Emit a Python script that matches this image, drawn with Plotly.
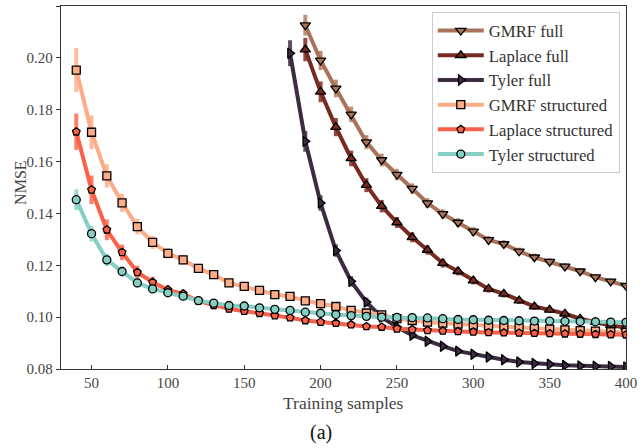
import plotly.graph_objects as go

# ---------------- data ----------------
x_struct = [40, 50, 60, 70, 80, 90, 100, 110, 120, 130, 140, 150, 160, 170, 180, 190, 200,
            210, 220, 230, 240, 250, 260, 270, 280, 290, 300, 310, 320, 330, 340, 350, 360,
            370, 380, 390, 400]
x_full190 = [190, 200, 210, 220, 230, 240, 250, 260, 270, 280, 290, 300, 310, 320, 330,
             340, 350, 360, 370, 380, 390, 400]
x_full180 = [180, 190, 200, 210, 220, 230, 240, 250, 260, 270, 280, 290, 300, 310, 320, 330,
             340, 350, 360, 370, 380, 390, 400]

gmrf_full = [0.2126, 0.1990, 0.1882, 0.1782, 0.1675, 0.1606, 0.1550, 0.1496, 0.1440, 0.1398,
             0.1365, 0.1331, 0.1298, 0.1282, 0.1254, 0.1231, 0.1214, 0.1196, 0.1177, 0.1154,
             0.1138, 0.1121]
gmrf_full_err = [0.0040, 0.0037, 0.0034, 0.0030, 0.0027, 0.0025, 0.0022, 0.0020, 0.0019, 0.0018,
                 0.0017, 0.0016, 0.0015, 0.0015, 0.0014, 0.0014, 0.0013, 0.0013, 0.0012, 0.0012,
                 0.0012, 0.0011]
laplace_full = [0.2032, 0.1869, 0.1733, 0.1612, 0.1509, 0.1428, 0.1365, 0.1308, 0.1259, 0.1208,
                0.1177, 0.1141, 0.1109, 0.1090, 0.1064, 0.1041, 0.1028, 0.1013, 0.0994, 0.0981,
                0.0968, 0.0960]
laplace_full_err = [0.0045, 0.0040, 0.0035, 0.0030, 0.0027, 0.0024, 0.0021, 0.0019, 0.0018, 0.0017,
                    0.0016, 0.0015, 0.0014, 0.0014, 0.0013, 0.0013, 0.0012, 0.0012, 0.0011, 0.0011,
                    0.0011, 0.0010]
tyler_full = [0.2018, 0.1678, 0.1440, 0.1257, 0.1138, 0.1058, 0.1000, 0.0962, 0.0930, 0.0907,
              0.0888, 0.0869, 0.0857, 0.0846, 0.0836, 0.0827, 0.0821, 0.0818, 0.0814, 0.0812,
              0.0811, 0.0810, 0.0808]
tyler_full_err = [0.0050, 0.0040, 0.0030, 0.0024, 0.0020, 0.0017, 0.0015, 0.0013, 0.0012, 0.0011,
                  0.0010, 0.0010, 0.0009, 0.0009, 0.0008, 0.0008, 0.0008, 0.0007, 0.0007, 0.0007,
                  0.0007, 0.0006, 0.0006]

gmrf_struct = [0.1953, 0.1713, 0.1545, 0.1441, 0.1349, 0.1288, 0.1246, 0.1221, 0.1188, 0.1164,
               0.1132, 0.1119, 0.1103, 0.1087, 0.1080, 0.1063, 0.1052, 0.1041, 0.1026, 0.1016,
               0.1009, 0.0994, 0.0987, 0.0981, 0.0977, 0.0973, 0.0969, 0.0966, 0.0963, 0.0960,
               0.0957, 0.0954, 0.0951, 0.0948, 0.0946, 0.0943, 0.0941]
gmrf_struct_err = [0.0085, 0.0065, 0.0045, 0.0035, 0.0030, 0.0025, 0.0021, 0.0019, 0.0018, 0.0017,
                   0.0016, 0.0015, 0.0015, 0.0014, 0.0014, 0.0013, 0.0013, 0.0013, 0.0012, 0.0012,
                   0.0012, 0.0012, 0.0011, 0.0011, 0.0011, 0.0011, 0.0011, 0.0010, 0.0010, 0.0010,
                   0.0010, 0.0010, 0.0010, 0.0010, 0.0010, 0.0010, 0.0010]
laplace_struct = [0.1715, 0.1491, 0.1337, 0.1250, 0.1173, 0.1135, 0.1105, 0.1090, 0.1062, 0.1045,
                  0.1032, 0.1023, 0.1015, 0.1006, 0.0998, 0.0987, 0.0981, 0.0977, 0.0971, 0.0964,
                  0.0962, 0.0955, 0.0952, 0.0949, 0.0947, 0.0945, 0.0943, 0.0941, 0.0940, 0.0939,
                  0.0938, 0.0937, 0.0936, 0.0935, 0.0934, 0.0933, 0.0932]
laplace_struct_err = [0.0070, 0.0055, 0.0040, 0.0030, 0.0025, 0.0021, 0.0019, 0.0017, 0.0016, 0.0015,
                      0.0014, 0.0014, 0.0013, 0.0013, 0.0012, 0.0012, 0.0012, 0.0011, 0.0011, 0.0011,
                      0.0011, 0.0010, 0.0010, 0.0010, 0.0010, 0.0010, 0.0010, 0.0009, 0.0009, 0.0009,
                      0.0009, 0.0009, 0.0009, 0.0009, 0.0009, 0.0009, 0.0009]
tyler_struct = [0.1453, 0.1322, 0.1221, 0.1176, 0.1132, 0.1109, 0.1094, 0.1081, 0.1064, 0.1054,
                0.1045, 0.1043, 0.1036, 0.1030, 0.1026, 0.1019, 0.1015, 0.1010, 0.1006, 0.1003,
                0.1000, 0.0999, 0.0998, 0.0997, 0.0994, 0.0991, 0.0990, 0.0988, 0.0987, 0.0986,
                0.0985, 0.0985, 0.0984, 0.0983, 0.0982, 0.0981, 0.0980]
tyler_struct_err = [0.0040, 0.0030, 0.0024, 0.0020, 0.0018, 0.0016, 0.0015, 0.0014, 0.0013, 0.0013,
                    0.0012, 0.0012, 0.0011, 0.0011, 0.0011, 0.0010, 0.0010, 0.0010, 0.0010, 0.0010,
                    0.0009, 0.0009, 0.0009, 0.0009, 0.0009, 0.0009, 0.0009, 0.0008, 0.0008, 0.0008,
                    0.0008, 0.0008, 0.0008, 0.0008, 0.0008, 0.0008, 0.0008]

x_ticks = [50, 100, 150, 200, 250, 300, 350, 400]
y_ticks = [0.08, 0.10, 0.12, 0.14, 0.16, 0.18, 0.20, 0.22]

series = [
    ("GMRF full", x_full190, gmrf_full, gmrf_full_err, "#a8735a", "rgba(176,124,98,0.85)", "triangle-down"),
    ("Laplace full", x_full190, laplace_full, laplace_full_err, "#772b20", "rgba(128,42,32,0.85)", "triangle-up"),
    ("Tyler full", x_full180, tyler_full, tyler_full_err, "#3b2c40", "rgba(66,50,72,0.85)", "triangle-right"),
    ("GMRF structured", x_struct, gmrf_struct, gmrf_struct_err, "#fcac86", "rgba(252,176,140,0.85)", "square"),
    ("Laplace structured", x_struct, laplace_struct, laplace_struct_err, "#fb6148", "rgba(251,104,80,0.85)", "pentagon"),
    ("Tyler structured", x_struct, tyler_struct, tyler_struct_err, "#86cfc5", "rgba(140,210,200,0.85)", "circle"),
]

FONT = "Liberation Serif"

fig = go.Figure()
for name, xs, ys, es, col, ecol, sym in series:
    fig.add_trace(go.Scatter(
        x=xs, y=ys, name=name, mode="lines+markers",
        line=dict(color=col, width=4),
        marker=dict(symbol=sym, size=9 if "triangle" in sym else 8, color=col,
                    line=dict(color="black", width=1.3)),
        error_y=dict(type="data", array=es, visible=True, color=ecol, thickness=4, width=0),
    ))

fig.update_layout(
    width=642, height=448,
    margin=dict(l=61, r=13, t=5, b=79),
    paper_bgcolor="white", plot_bgcolor="white",
    font=dict(family=FONT, size=15, color="#444"),
    showlegend=True,
    legend=dict(
        x=0.989, y=0.983, xanchor="right", yanchor="top",
        bgcolor="rgba(255,255,255,0.85)", bordercolor="#cccccc", borderwidth=1,
        font=dict(family=FONT, size=16.7, color="#333"),
        itemwidth=46,
    ),
    annotations=[
        dict(text="(a)", xref="paper", yref="paper", x=0.4595, y=-0.174,
             xanchor="center", yanchor="middle", showarrow=False,
             font=dict(family=FONT, size=20, color="#111")),
        dict(text="Training samples", xref="paper", yref="paper", x=0.5, y=-0.0945,
             xanchor="center", yanchor="middle", showarrow=False,
             font=dict(family=FONT, size=17.5, color="#444")),
        dict(text="NMSE", xref="paper", yref="paper", x=-0.073, y=0.512, textangle=-90,
             xanchor="center", yanchor="middle", showarrow=False,
             font=dict(family=FONT, size=16, color="#444")),
    ],
)
fig.update_xaxes(
    range=[30, 400], tickmode="array", tickvals=x_ticks, ticktext=[str(v) for v in x_ticks],
    showgrid=False, zeroline=False, showline=True, linecolor="#333", linewidth=1.3, mirror=True,
    ticks="inside", ticklen=4, tickcolor="#333",
    tickfont=dict(family=FONT, size=15, color="#444"),
)
fig.update_yaxes(
    range=[0.08, 0.22], tickmode="array", tickvals=y_ticks, ticktext=["%.2f" % v for v in y_ticks],
    showgrid=False, zeroline=False, showline=True, linecolor="#333", linewidth=1.3, mirror=True,
    ticks="outside", ticklen=4, tickcolor="#333",
    tickfont=dict(family=FONT, size=15, color="#444"),
)

fig.write_html("out.html", config={"displayModeBar": False},
               post_script="document.body.style.margin='0';")
